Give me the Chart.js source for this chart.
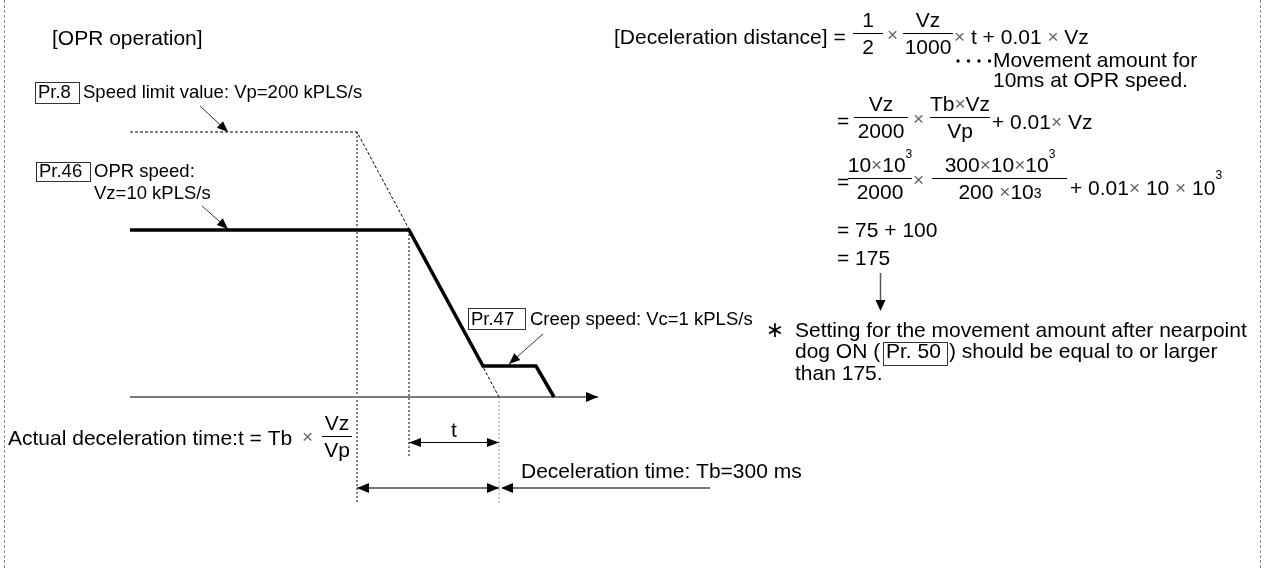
<!DOCTYPE html>
<html><head><meta charset="utf-8">
<script src="https://cdn.jsdelivr.net/npm/chart.js@4.4.1/dist/chart.umd.min.js"></script>
<style>html,body{margin:0;padding:0;background:#fff;overflow:hidden}canvas{display:block}</style>
</head><body>
<canvas id="c" width="1265" height="568"></canvas>
<script>
// ---- data: schematic diagram units (time to the right, speed upward, origin = start of time axis) ----
const profileTime  = [0, 279, 353, 406, 424];   // OPR speed -> deceleration -> creep -> stop
const profileSpeed = [167, 167, 31, 31, 0];
const limitTime    = [0, 227, 369];             // speed limit value profile (dotted)
const limitSpeed   = [265, 265, 0];
const axisTime     = [0, 468];
const axisSpeed    = [0, 0];

const pts = (xs, ys) => xs.map((x, i) => ({x: x, y: ys[i]}));
const decelStart = limitTime[1], vzDecelStart = profileTime[1], decelEnd = limitTime[2];

// layout constants (pixels / units below axis)
const GUIDE_LOW = -106, GUIDE_MID = -61;

const FONT = s => s + 'px "Liberation Sans", Arial, Helvetica, sans-serif';

function txt(ctx, s, x, y, size, align, color) {
  ctx.font = FONT(size); ctx.textAlign = align || 'left'; ctx.textBaseline = 'alphabetic';
  ctx.fillStyle = color || '#000'; ctx.fillText(s, x, y);
}
function seq(ctx, x, y, parts, align) {
  ctx.textAlign = 'left'; ctx.textBaseline = 'alphabetic';
  let w = 0;
  parts.forEach(p => { ctx.font = FONT(p[1]); w += ctx.measureText(p[0]).width; });
  let cx = align === 'center' ? x - w / 2 : x;
  parts.forEach(p => {
    ctx.font = FONT(p[1]); ctx.fillStyle = p[3] || '#000';
    ctx.fillText(p[0], cx, y + (p[2] || 0)); cx += ctx.measureText(p[0]).width;
  });
}
function ln(ctx, x1, y1, x2, y2, color, w, dash) {
  ctx.save(); ctx.beginPath(); ctx.strokeStyle = color; ctx.lineWidth = w; ctx.setLineDash(dash || []);
  ctx.moveTo(x1, y1); ctx.lineTo(x2, y2); ctx.stroke(); ctx.restore();
}
function head(ctx, x, y, ang, len, hw) {
  ctx.save(); ctx.translate(x, y); ctx.rotate(ang); ctx.beginPath();
  ctx.moveTo(0, 0); ctx.lineTo(-len, -hw); ctx.lineTo(-len, hw); ctx.closePath();
  ctx.fillStyle = '#000'; ctx.fill(); ctx.restore();
}
function leader(ctx, x1, y1, x2, y2) {
  ln(ctx, x1, y1, x2, y2, '#333', 1);
  head(ctx, x2, y2, Math.atan2(y2 - y1, x2 - x1), 11, 4.5);
}
function box(ctx, x1, y1, x2, y2) {
  ctx.save(); ctx.strokeStyle = '#333'; ctx.lineWidth = 1;
  ctx.strokeRect(x1 + 0.5, y1 + 0.5, x2 - x1, y2 - y1); ctx.restore();
}
function frac(ctx, num, den, cx, barY, x1, x2) {
  if (typeof num === 'string') txt(ctx, num, cx, barY - 6, 21, 'center'); else seq(ctx, cx, barY - 6, num, 'center');
  if (typeof den === 'string') txt(ctx, den, cx, barY + 21, 21, 'center'); else seq(ctx, cx, barY + 21, den, 'center');
  ln(ctx, x1, barY + 0.5, x2, barY + 0.5, '#000', 1);
}
const MUL = ['\u00d7', 19, -1, '#666'];

const annotations = {
  id: 'annotations',
  afterDatasetsDraw(chart) {
    const ctx = chart.ctx;
    const X = v => chart.scales.x.getPixelForValue(v);
    const Y = v => chart.scales.y.getPixelForValue(v);

    // page frame
    ln(ctx, 4.5, 0, 4.5, 568, '#8a8a8a', 1, [3, 2]);
    ln(ctx, 1260.5, 0, 1260.5, 568, '#8a8a8a', 1, [3, 2]);

    // time axis arrowhead
    head(ctx, X(axisTime[1]), Y(0), 0, 12, 5);

    // dimension: t
    const tY = 442.5, tbY = 488;
    ln(ctx, X(vzDecelStart), tY, X(decelEnd), tY, '#000', 1);
    head(ctx, X(vzDecelStart), tY, Math.PI, 12, 4.5);
    head(ctx, X(decelEnd), tY, 0, 12, 4.5);
    // dimension: Tb
    ln(ctx, X(decelStart), tbY, X(decelEnd), tbY, '#777', 2);
    head(ctx, X(decelStart), tbY, Math.PI, 12, 5);
    head(ctx, X(decelEnd), tbY, 0, 12, 5);
    ln(ctx, X(decelEnd) + 8, tbY, 710, tbY, '#777', 2);
    head(ctx, X(decelEnd) + 2, tbY, Math.PI, 12, 5);

    // ---- left labels ----
    txt(ctx, '[OPR operation]', 52, 45, 21);
    box(ctx, 35, 82, 79, 103);
    txt(ctx, 'Pr.8', 38, 98, 18.5);
    txt(ctx, 'Speed limit value: Vp=200 kPLS/s', 83, 98, 18.5);
    leader(ctx, 200, 106, 228, 132);

    box(ctx, 36, 162, 90, 181);
    txt(ctx, 'Pr.46', 39, 177, 18.5);
    txt(ctx, 'OPR speed:', 94, 177, 18.5);
    txt(ctx, 'Vz=10 kPLS/s', 94, 199, 18.5);
    leader(ctx, 202, 206, 228, 229);

    box(ctx, 468, 308, 525, 329);
    txt(ctx, 'Pr.47', 471, 325, 18.5);
    txt(ctx, 'Creep speed: Vc=1 kPLS/s', 530, 325, 18.5);
    leader(ctx, 543, 334, 509, 364);

    // bottom texts
    txt(ctx, 'Actual deceleration time:t = Tb', 8, 445, 21);
    seq(ctx, 302, 444, [MUL]);
    frac(ctx, 'Vz', 'Vp', 337, 436, 322, 352);
    txt(ctx, 't', 454, 437, 21, 'center');
    txt(ctx, 'Deceleration time: Tb=300 ms', 521, 478, 21);

    // ---- formula ----
    txt(ctx, '[Deceleration distance] =', 614, 44, 21);
    frac(ctx, '1', '2', 868, 33, 853, 883);
    seq(ctx, 887, 42, [MUL]);
    frac(ctx, 'Vz', '1000', 928, 33, 903, 953);
    seq(ctx, 954, 44, [MUL, [' t + 0.01 ', 21], MUL, [' Vz', 21]]);
    for (let i = 0; i < 4; i++) {
      ctx.beginPath(); ctx.arc(958 + i * 10.5, 61, 1.7, 0, Math.PI * 2); ctx.fillStyle = '#000'; ctx.fill();
    }
    txt(ctx, 'Movement amount for', 993, 67, 21);
    txt(ctx, '10ms at OPR speed.', 993, 87, 21);

    txt(ctx, '=', 837, 128, 21);
    frac(ctx, 'Vz', '2000', 881, 117, 854, 908);
    seq(ctx, 913, 126, [MUL]);
    frac(ctx, [['Tb', 21], MUL, ['Vz', 21]], 'Vp', 960, 117, 930, 990);
    seq(ctx, 992, 129, [['+ 0.01', 21], MUL, [' Vz', 21]]);

    txt(ctx, '=', 837, 189, 21);
    frac(ctx, [['10', 21], MUL, ['10', 21], ['3', 12, -14]], '2000', 880, 178, 848, 912);
    seq(ctx, 913, 187, [MUL]);
    frac(ctx, [['300', 21], MUL, ['10', 21], MUL, ['10', 21], ['3', 12, -14]],
              [['200 ', 21], MUL, ['10', 21], ['3', 14, -1]], 1000, 178, 932, 1067);
    seq(ctx, 1070, 195, [['+ 0.01', 21], MUL, [' 10 ', 21], MUL, [' 10', 21], ['3', 12, -16]]);

    txt(ctx, '= 75 + 100', 837, 237, 21);
    txt(ctx, '= 175', 837, 265, 21);
    ln(ctx, 880.5, 273, 880.5, 301, '#555', 1.5);
    head(ctx, 880.5, 311, Math.PI / 2, 11, 5);

    // note
    ctx.font = '22px "DejaVu Sans", sans-serif'; ctx.textAlign = 'center'; ctx.textBaseline = 'middle';
    ctx.fillStyle = '#000'; ctx.fillText('\u2217', 775, 331);
    txt(ctx, 'Setting for the movement amount after nearpoint', 795, 337, 21);
    txt(ctx, 'dog ON (', 795, 358, 21);
    box(ctx, 883, 342, 947, 365);
    txt(ctx, 'Pr. 50', 886, 358, 21);
    txt(ctx, ') should be equal to or larger', 949, 358, 21);
    txt(ctx, 'than 175.', 795, 380, 21);
  }
};

new Chart(document.getElementById('c'), {
  type: 'scatter',
  data: {
    datasets: [
      { label: 'OPR speed profile', data: pts(profileTime, profileSpeed), showLine: true,
        borderColor: '#000', borderWidth: 3.5, pointRadius: 0, borderJoinStyle: 'miter', clip: false },
      { label: 'Speed limit profile', data: pts(limitTime, limitSpeed), showLine: true,
        borderColor: '#000', borderWidth: 1, borderDash: [3, 2], pointRadius: 0, clip: false },
      { label: 'time axis', data: pts(axisTime, axisSpeed), showLine: true,
        borderColor: '#7a7a7a', borderWidth: 2, pointRadius: 0, clip: false },
      { label: 'guide Tb start', data: [{x: decelStart, y: limitSpeed[1]}, {x: decelStart, y: GUIDE_LOW}], showLine: true,
        borderColor: '#000', borderWidth: 1, borderDash: [2, 2], pointRadius: 0, clip: false },
      { label: 'guide t start', data: [{x: vzDecelStart, y: profileSpeed[1]}, {x: vzDecelStart, y: GUIDE_MID}], showLine: true,
        borderColor: '#000', borderWidth: 1, borderDash: [2, 2], pointRadius: 0, clip: false },
      { label: 'guide end', data: [{x: decelEnd, y: 0}, {x: decelEnd, y: GUIDE_LOW}], showLine: true,
        borderColor: '#999', borderWidth: 1, borderDash: [2, 2], pointRadius: 0, clip: false }
    ]
  },
  options: {
    responsive: false, devicePixelRatio: 1, animation: false, events: [],
    layout: { padding: 0, autoPadding: false },
    plugins: { legend: { display: false }, tooltip: { enabled: false } },
    scales: {
      x: { type: 'linear', min: -130, max: 1135, display: false },
      y: { type: 'linear', min: -171, max: 397, display: false }
    }
  },
  plugins: [annotations]
});
</script>
</body></html>
